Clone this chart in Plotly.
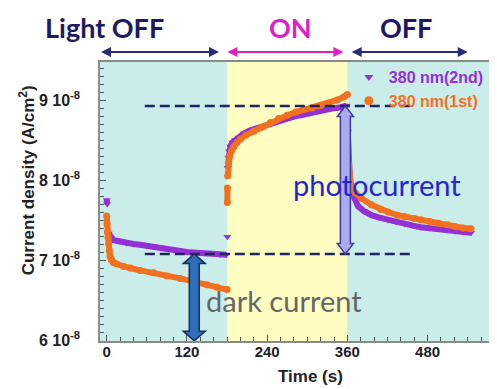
import plotly.graph_objects as go

# ---------------- data (current density in units of 1e-8 A/cm^2) ----------------
# 380 nm (2nd run) - purple triangles
t_p_dark = [0, 0.7, 1.5, 3, 6, 10, 15, 20, 30, 40, 50, 60, 70, 80, 90, 100, 110, 120, 130, 140, 150, 160, 170, 179]
j_p_dark = [7.75, 7.70, None, 7.33, 7.28, 7.25, 7.24, 7.23, 7.21, 7.20, 7.19, 7.175, 7.165, 7.155, 7.14, 7.125,
            7.11, 7.10, 7.095, 7.09, 7.085, 7.08, 7.07, 7.065]
t_p_on = [180.5, 180.8, 181, 182, 183, 185, 188, 192, 197, 205, 215, 230, 245, 260, 275, 290, 305, 320, 335, 350, 359]
j_p_on = [7.29, None, 8.15, 8.28, 8.36, 8.42, 8.47, 8.50, 8.53, 8.58, 8.62, 8.66, 8.70, 8.75, 8.78, 8.81, 8.84,
          8.87, 8.89, 8.91, 8.93]
t_p_off = [360.5, 362, 364, 367, 371, 376, 385, 396, 408, 421, 433, 446, 458, 470, 483, 496, 508, 521, 533, 545]
j_p_off = [8.6, 8.1, 7.95, 7.85, 7.75, 7.67, 7.61, 7.56, 7.53, 7.50, 7.475, 7.45, 7.43, 7.41, 7.40, 7.39, 7.375,
           7.36, 7.35, 7.34]

# 380 nm (1st run) - orange circles
t_o_dark = [0, 0.5, 1, 2, 3, 4, 5, 7, 10, 15, 25, 35, 50, 70, 90, 110, 130, 150, 165, 180]
j_o_dark = [7.55, 7.45, 7.35, 7.28, 7.20, 7.12, 7.05, 7.00, 6.97, 6.95, 6.92, 6.90, 6.87, 6.84, 6.80, 6.77, 6.73,
            6.69, 6.66, 6.63]
t_o_on = [180.5, 180.6, 180.8, 181, 182, 184, 187, 190, 195, 200, 208, 220, 232, 245, 257, 270, 283, 295, 307, 320,
          332, 345, 355, 360]
j_o_on = [7.72, 7.90, None, 8.05, 8.20, 8.30, 8.37, 8.42, 8.47, 8.51, 8.56, 8.61, 8.66, 8.72, 8.77, 8.81, 8.85, 8.88,
          8.90, 8.93, 8.96, 9.00, 9.04, 9.07]
t_o_off = [361, 362, 363, 365, 368, 372, 381, 396, 410, 421, 435, 446, 460, 470, 483, 496, 510, 521, 533, 545]
j_o_off = [8.34, 8.19, 8.05, 7.95, 7.87, 7.84, 7.77, 7.69, 7.63, 7.60, 7.56, 7.54, 7.52, 7.50, 7.48, 7.46, 7.44,
           7.42, 7.40, 7.39]

# reference levels / annotation values
photo_level = 8.925
dark_level = 7.075
dash_t = [57, 455]
phase_bounds = [180, 360]
y_ticks = [6, 7, 8, 9]
y_ticktext = ["6 10<sup>-8</sup>", "7 10<sup>-8</sup>", "8 10<sup>-8</sup>", "9 10<sup>-8</sup>"]
x_ticks = [0, 120, 240, 360, 480]

PURPLE = "#9430D6"
ORANGE = "#F2711E"
NAVY = "#1C1A63"
MAGENTA = "#E01EC8"
CYAN_BG = "#CAEDEA"
YELLOW_BG = "#FFFDC2"

fig = go.Figure()


def add_series(ts, js, color, symbol, msize):
    fig.add_trace(go.Scatter(x=ts, y=js, mode="lines+markers", showlegend=False,
                             line=dict(color=color, width=6),
                             marker=dict(color=color, symbol=symbol, size=msize),
                             connectgaps=False, hoverinfo="skip"))


for ts, js in [(t_p_dark, j_p_dark), (t_p_on, j_p_on), (t_p_off, j_p_off)]:
    add_series(ts, js, PURPLE, "triangle-down", 7)
for ts, js in [(t_o_dark, j_o_dark), (t_o_on, j_o_on), (t_o_off, j_o_off)]:
    add_series(ts, js, ORANGE, "circle", 7)

# legend entries
fig.add_trace(go.Scatter(x=[None], y=[None], mode="markers",
                         name=f"<span style='color:{PURPLE}'>380 nm(2nd)</span>",
                         marker=dict(color=PURPLE, symbol="triangle-down", size=8)))
fig.add_trace(go.Scatter(x=[None], y=[None], mode="markers",
                         name=f"<span style='color:{ORANGE}'>380 nm(1st)</span>",
                         marker=dict(color=ORANGE, symbol="circle", size=9)))

# background phases
fig.add_vrect(x0=phase_bounds[0], x1=phase_bounds[1], fillcolor=YELLOW_BG, line_width=0, layer="below", opacity=1)

# dashed reference lines
for lvl in [photo_level, dark_level]:
    fig.add_shape(type="line", x0=dash_t[0], x1=dash_t[1], y0=lvl, y1=lvl, xref="x", yref="y",
                  line=dict(color="#1F2560", width=2.5, dash="10px,5px"))


def v_arrow(t, y_top, y_bot, fill, edge, sh, hh, hl):
    path = (f"M {-sh},{y_top - hl} L {-hh},{y_top - hl} L 0,{y_top} L {hh},{y_top - hl} L {sh},{y_top - hl} "
            f"L {sh},{y_bot + hl} L {hh},{y_bot + hl} L 0,{y_bot} L {-hh},{y_bot + hl} L {-sh},{y_bot + hl} Z")
    fig.add_shape(type="path", path=path, xsizemode="pixel", xanchor=t, xref="x", yref="y",
                  fillcolor=fill, line=dict(color=edge, width=1.5))


v_arrow(357, photo_level, dark_level, "#AAAAEE", "#3D3D9A", 5, 8, 0.13)
v_arrow(131, dark_level, 5.99, "#2E6DB8", "#1A2F5A", 5, 11, 0.12)

# text annotations in the plot
fig.add_annotation(x=275, y=7.94, xref="x", yref="y", text="photocurrent", showarrow=False,
                   xanchor="left", yanchor="middle", font=dict(family="Lato", size=29, color="#2424D8"))
fig.add_annotation(x=146, y=6.5, xref="x", yref="y", text="dark current", showarrow=False,
                   xanchor="left", yanchor="middle", font=dict(family="Lato", size=29, color="#666666"))

# top phase labels and arrows
ARROW_Y = 1.036
for label, tc, col in [("Light OFF", -3, NAVY), ("ON", 275, MAGENTA), ("OFF", 448, NAVY)]:
    fig.add_annotation(x=tc, y=1.125, xref="x", yref="paper", text=f"<b>{label}</b>", showarrow=False,
                       xanchor="center", yanchor="middle", font=dict(family="Lato", size=27, color=col))
for t0, t1, col in [(-13, 168, "#2B2A78"), (176, 354, MAGENTA), (362, 540, "#2B2A78")]:
    fig.add_annotation(x=t1, y=ARROW_Y, xref="x", yref="paper", ax=t0, ay=0, axref="x", ayref="pixel",
                       text=" ", showarrow=True, arrowhead=2, arrowside="end+start", arrowsize=1.0,
                       arrowwidth=2, arrowcolor=col, standoff=0, startstandoff=0)

# axis titles
fig.add_annotation(x=-0.184, y=0.577, xref="paper", yref="paper", text="Current density (A/cm<sup>2</sup>)",
                   textangle=-90, showarrow=False, xanchor="center", yanchor="middle",
                   font=dict(family="Liberation Sans", size=17, color="#222222", weight="bold"))
fig.add_annotation(x=0.534, y=-0.126, xref="paper", yref="paper", text="Time (s)", showarrow=False,
                   xanchor="center", yanchor="middle",
                   font=dict(family="Liberation Sans", size=17, color="#222222", weight="bold"))

fig.update_xaxes(range=[-10, 580.8], tickvals=x_ticks, ticks="inside", ticklen=6, tickcolor="#555555",
                 minor=dict(dtick=20, tick0=0, ticks="inside", ticklen=4, tickcolor="#555555"),
                 showline=True, linecolor="#8A8A8A", linewidth=1.5, mirror=True, showgrid=False, zeroline=False,
                 tickfont=dict(family="Liberation Sans", size=15, color="#222222", weight="bold"),
                 ticklabelstandoff=-4)
fig.update_yaxes(range=[5.9875, 9.475], tickvals=y_ticks, ticktext=y_ticktext, ticks="inside", ticklen=6,
                 tickcolor="#555555",
                 minor=dict(dtick=0.1, tick0=6, ticks="inside", ticklen=4, tickcolor="#555555"),
                 showline=True, linecolor="#8A8A8A", linewidth=1.5, mirror=True, showgrid=False, zeroline=False,
                 tickfont=dict(family="Liberation Sans", size=16, color="#222222", weight="bold"),
                 ticklabelstandoff=15)

fig.update_layout(width=489, height=381, margin=dict(l=92, r=0, t=54, b=48),
                  paper_bgcolor="white", plot_bgcolor=CYAN_BG,
                  legend=dict(x=0.63, y=1.007, xanchor="left", yanchor="top", bgcolor="rgba(0,0,0,0)",
                              font=dict(family="Liberation Sans", size=16, weight="bold"),
                              tracegroupgap=0, itemwidth=30),
                  showlegend=True)

fig.write_html("out.html")
